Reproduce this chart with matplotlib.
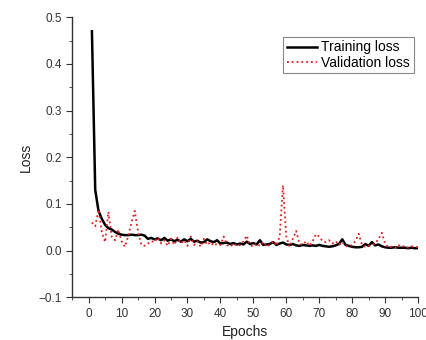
import matplotlib
matplotlib.use("Agg")
import matplotlib.pyplot as plt
from matplotlib.ticker import MultipleLocator

plt.rcParams['font.family'] = ['Liberation Sans', 'DejaVu Sans']

# per-epoch losses
epochs = list(range(1, 101))
train_loss = [
    0.470, 0.130, 0.085, 0.068, 0.055, 0.048, 0.045, 0.040, 0.036, 0.034,
    0.033, 0.033, 0.034, 0.033, 0.033, 0.034, 0.032, 0.025, 0.027, 0.024,
    0.026, 0.022, 0.027, 0.021, 0.024, 0.020, 0.023, 0.019, 0.024, 0.020,
    0.025, 0.019, 0.021, 0.017, 0.018, 0.024, 0.020, 0.018, 0.022, 0.015,
    0.016, 0.017, 0.014, 0.016, 0.013, 0.015, 0.013, 0.019, 0.014, 0.016,
    0.013, 0.022, 0.012, 0.013, 0.014, 0.018, 0.012, 0.015, 0.017, 0.013,
    0.012, 0.014, 0.011, 0.010, 0.012, 0.011, 0.010, 0.011, 0.010, 0.012,
    0.010, 0.009, 0.008, 0.009, 0.011, 0.014, 0.024, 0.012, 0.010, 0.008,
    0.007, 0.007, 0.008, 0.014, 0.010, 0.018, 0.011, 0.013, 0.009, 0.007,
    0.006, 0.006, 0.007, 0.006, 0.006, 0.006, 0.005, 0.006, 0.005, 0.005,
]
val_loss = [
    0.060, 0.052, 0.088, 0.040, 0.018, 0.083, 0.030, 0.022, 0.045, 0.020,
    0.008, 0.030, 0.060, 0.085, 0.040, 0.012, 0.010, 0.015, 0.020, 0.018,
    0.028, 0.015, 0.022, 0.010, 0.025, 0.012, 0.028, 0.015, 0.022, 0.010,
    0.030, 0.012, 0.020, 0.008, 0.025, 0.012, 0.018, 0.010, 0.015, 0.012,
    0.030, 0.012, 0.008, 0.015, 0.010, 0.012, 0.020, 0.032, 0.012, 0.008,
    0.015, 0.010, 0.018, 0.008, 0.012, 0.020, 0.010, 0.030, 0.140, 0.030,
    0.008, 0.025, 0.042, 0.015, 0.012, 0.020, 0.010, 0.020, 0.035, 0.030,
    0.020, 0.018, 0.022, 0.015, 0.020, 0.012, 0.018, 0.010, 0.008, 0.012,
    0.020, 0.036, 0.012, 0.008, 0.010, 0.012, 0.015, 0.025, 0.038, 0.015,
    0.006, 0.008, 0.006, 0.012, 0.008, 0.010, 0.006, 0.009, 0.007, 0.008,
]

fig = plt.figure(figsize=(4.27, 3.40), dpi=100)
ax = fig.add_axes([0.169, 0.126, 0.810, 0.823])

ax.plot(epochs, train_loss, color='black', lw=1.8, label='Training loss')
ax.plot(epochs, val_loss, color='#e02020', lw=1.3, ls=':', label='Validation loss')

ax.set_xlim(-5, 100)
ax.set_ylim(-0.1, 0.5)
ax.xaxis.set_major_locator(MultipleLocator(10))
ax.xaxis.set_minor_locator(MultipleLocator(5))
ax.yaxis.set_major_locator(MultipleLocator(0.1))
ax.yaxis.set_minor_locator(MultipleLocator(0.05))
ax.yaxis.set_major_formatter(plt.FuncFormatter(lambda v, p: f"{v:.1f}".replace('-', '\u2212')))

for s in ['top', 'right']:
    ax.spines[s].set_visible(False)
for s in ['left', 'bottom']:
    ax.spines[s].set_color('#333333')
    ax.spines[s].set_linewidth(1.0)
ax.tick_params(which='both', direction='out', colors='#333333', labelsize=8.5)
ax.tick_params(which='major', length=4)
ax.tick_params(which='minor', length=2.5)

ax.set_xlabel('Epochs', fontsize=10, color='#222222')
ax.set_ylabel('Loss', fontsize=10, color='#222222')

leg = ax.legend(loc='upper right', bbox_to_anchor=(0.995, 0.94), fontsize=10,
                fancybox=False, framealpha=1, edgecolor='#888888',
                handlelength=2.2, handletextpad=0.3, borderpad=0.25,
                labelspacing=0.1, borderaxespad=0.2)
leg.get_frame().set_linewidth(0.8)

fig.savefig('out.png', dpi=100)
